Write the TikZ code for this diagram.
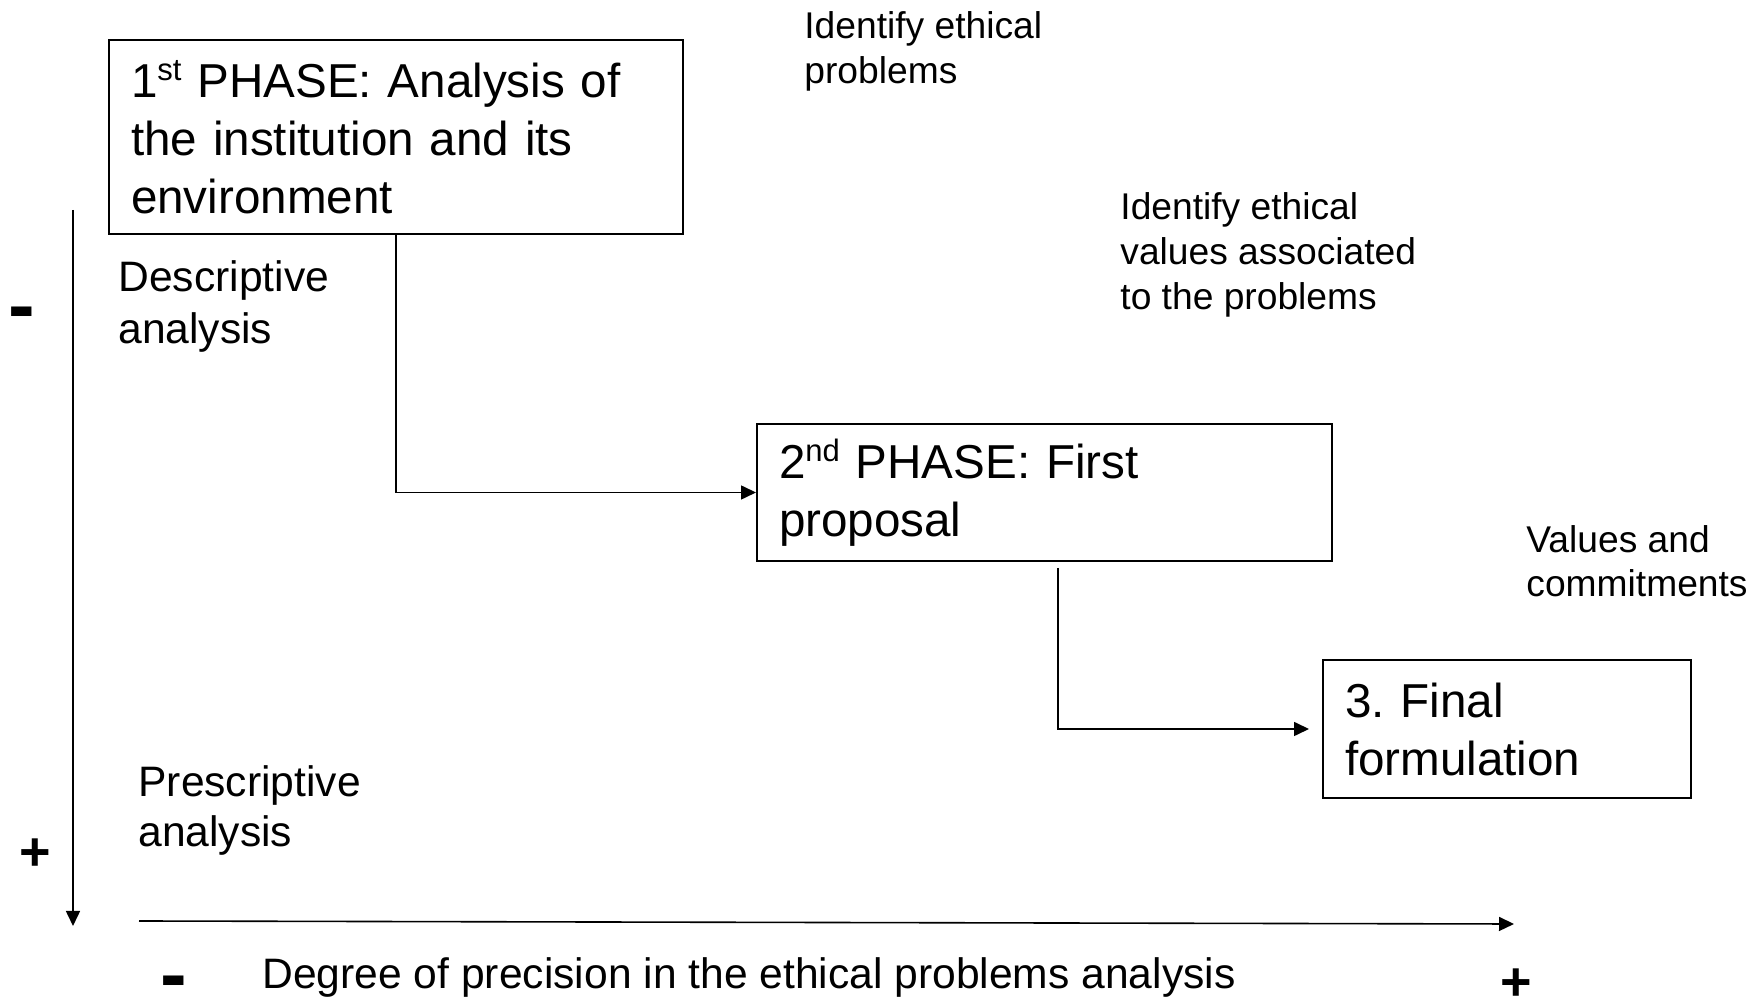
\documentclass[tikz,border=0pt]{standalone}
\usepackage{fontspec}
\setmainfont{Liberation Sans}
\usetikzlibrary{arrows.meta,positioning}
\frenchspacing
\newcommand\ordsup[1]{\raisebox{0.36em}{\fontsize{15.5}{15.5}\selectfont #1}}

\begin{document}
\begin{tikzpicture}[
  x=0.5pt, y=-0.5pt,
  >={Triangle[length=7.5pt,width=7pt]},
  phase/.style={draw, line width=1pt, inner xsep=11pt, inner ysep=0pt, align=left, font=\fontsize{23.8}{29}\selectfont},
  note/.style={anchor=north west, inner sep=0pt, align=left, font=\fontsize{18.6}{22.5}\selectfont},
  side/.style={anchor=north west, inner sep=0pt, align=left, font=\fontsize{21.3}{26}\selectfont},
  sign/.style={inner sep=0pt, font=\bfseries\fontsize{27}{30}\selectfont},
  link/.style={->, line width=0.8pt}
]
\useasboundingbox (0,0) rectangle (1758,1004);

\node[phase, text width=265pt, minimum height=97pt] (first) at (396,137)
  {1\ordsup{st} PHASE: Analysis of\\the institution and its\\environment};
\node[phase, text width=265.5pt, minimum height=68.5pt] (second) at (1044.5,492.5)
  {2\ordsup{nd} PHASE: First\\proposal};
\node[phase, text width=162pt, minimum height=69pt] (final) at (1507,729)
  {3. Final\\formulation};

\node[note] (probs) at (804,11) {Identify ethical\\problems};
\node[note] (vals) at (1120,192) {Identify ethical\\values associated\\to the problems};
\node[note, font=\fontsize{18.6}{22}\selectfont] (commit) at (1526,525) {Values and\\commitments};

\node[side] (descr) at (118,260) {Descriptive\\analysis};
\node[side, font=\fontsize{21.3}{25}\selectfont] (prescr) at (138,765) {Prescriptive\\analysis};
\node[side] (degree) at (262,957) {Degree of precision in the ethical problems analysis};

\node[sign, font=\bfseries\fontsize{40}{40}\selectfont] (lessv) at (22,320) {-};
\node[sign] (morev) at (35,855) {+};
\node[sign, font=\bfseries\fontsize{40}{40}\selectfont] (lessh) at (174,989) {-};
\node[sign] (moreh) at (1516,985) {+};

\coordinate (vtop) at (73,210);
\coordinate (vbot) at (73,926);
\coordinate (hleft) at (139,921);
\coordinate (hright) at (1514,924);
\draw[link] (vtop) -- (vbot);
\draw[link] (hleft) -- (hright);

\draw[link] (first.south) |- (second.west);
\draw[link] ([xshift=6.75pt,yshift=-3pt]second.south) |- ([xshift=-6.5pt]final.west);

\end{tikzpicture}
\end{document}
